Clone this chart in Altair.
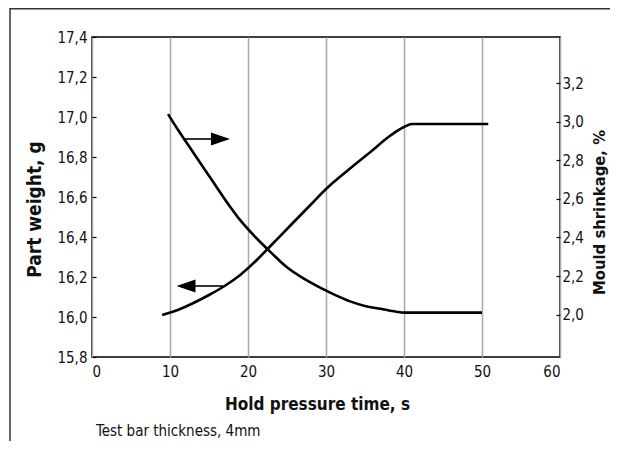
import altair as alt
import pandas as pd

# ---- data ----
time_pw = [9, 11, 13, 15, 17, 19, 21, 23, 25, 28, 30, 33, 36, 38, 40, 41, 45, 50.8]
part_weight = [16.01, 16.035, 16.07, 16.11, 16.155, 16.21, 16.28, 16.36, 16.44, 16.56, 16.64,
               16.74, 16.835, 16.90, 16.95, 16.965, 16.965, 16.965]

time_sh = [9.75, 11, 13, 15, 17, 19, 21, 23, 25, 27, 29, 31, 33, 35, 37, 39, 40, 45, 50]
shrinkage = [3.04, 2.96, 2.84, 2.72, 2.60, 2.49, 2.40, 2.32, 2.245, 2.19, 2.145, 2.105, 2.07,
             2.045, 2.03, 2.015, 2.01, 2.01, 2.01]

arrow_dir = ["right", "left"]
arrow_y = [16.89, 16.155]
arrow_shaft_from = [11.8, 16.8]
arrow_shaft_to = [15.3, 13.2]
arrow_head_x = [16.47, 12.05]

x_ticks = [0, 10, 20, 30, 40, 50, 60]
left_ticks = [15.8, 16.0, 16.2, 16.4, 16.6, 16.8, 17.0, 17.2, 17.4]
right_ticks = [2.0, 2.2, 2.4, 2.6, 2.8, 3.0, 3.2]

FONT = "DejaVu Sans Condensed, Liberation Sans Narrow, Arial Narrow, sans-serif"
COMMA = "replace(format(datum.value, '.1f'), '.', ',')"

pw_df = pd.DataFrame({"t": time_pw, "w": part_weight})
sh_df = pd.DataFrame({"t": time_sh, "s": shrinkage})
ar_df = pd.DataFrame({"dir": arrow_dir, "ay": arrow_y, "x1": arrow_shaft_from,
                      "x2": arrow_shaft_to, "hx": arrow_head_x})
one = pd.DataFrame({"k": [0]})

x_scale = alt.Scale(domain=[0, 60], nice=False, zero=False)
x_axis = alt.Axis(values=x_ticks, grid=True, gridColor="#a8a8a8", gridWidth=1.5,
                  domain=False, ticks=False, labelPadding=7, labelFontSize=15,
                  labelFont=FONT, labelColor="#111", format="d",
                  title="Hold pressure time, s", titleFont=FONT, titleFontSize=17,
                  titleFontWeight="bold", titleColor="#111", titleX=225, titleY=52,
                  titleBaseline="alphabetic")

y_left_scale = alt.Scale(domain=[15.8, 17.4], nice=False, zero=False)
y_left_axis = alt.Axis(orient="left", values=left_ticks, labelExpr=COMMA, offset=-4,
                       tickSize=4, tickColor="black", tickWidth=1.2, domain=False,
                       grid=False, labelPadding=5, labelFontSize=15, labelFont=FONT,
                       labelColor="#111", labelOverlap=False, labelFlush=False,
                       title="Part weight, g", titleFont=FONT,
                       titleFontSize=19, titleFontWeight="bold", titleColor="#111",
                       titlePadding=12, titleY=172)

X = lambda f: alt.X(f, scale=x_scale, axis=x_axis)
YL = lambda f: alt.Y(f, scale=y_left_scale, axis=y_left_axis)

pw_line = alt.Chart(pw_df).mark_line(color="black", strokeWidth=2.6, interpolate="monotone").encode(
    x=X("t:Q"), y=YL("w:Q"),
)

shafts = alt.Chart(ar_df).mark_rule(color="black", strokeWidth=1.6).encode(
    x=X("x1:Q"), x2="x2:Q", y=YL("ay:Q")
)

heads = alt.Chart(ar_df).mark_point(filled=True, color="black", opacity=1, size=361,
                                    strokeWidth=0).encode(
    x=X("hx:Q"), y=YL("ay:Q"),
    shape=alt.Shape("dir:N", legend=None,
                    scale=alt.Scale(domain=["right", "left"],
                                    range=["M1,0L-1,-0.68L-1,0.68Z", "M-1,0L1,-0.68L1,0.68Z"])),
)

note = alt.Chart(one).mark_text(text="Test bar thickness, 4mm", font=FONT, fontSize=15,
                                color="#111", align="left", baseline="alphabetic").encode(
    x=alt.value(4), y=alt.value(399)
)

frame_left = alt.Chart(one).mark_rule(color="#333", strokeWidth=1.5).encode(
    x=alt.value(-82), y=alt.value(-29), y2=alt.value(410)
)
frame_top = alt.Chart(one).mark_rule(color="#333", strokeWidth=1.5).encode(
    y=alt.value(-28.2), x=alt.value(-82), x2=alt.value(526)
)

left = alt.layer(pw_line, shafts, heads, note, frame_left, frame_top)

y_right_scale = alt.Scale(domain=[1.78, 3.44], nice=False, zero=False)
y_right_axis = alt.Axis(orient="right", values=right_ticks, labelExpr=COMMA, offset=-4,
                        tickSize=4, tickColor="black", tickWidth=1.2, domain=False,
                        grid=False, labelPadding=2, labelFontSize=15, labelFont=FONT,
                        labelColor="#111", labelOverlap=False, labelFlush=False,
                        title="Mould shrinkage, %", titleFont=FONT,
                        titleFontSize=16.5, titleFontWeight="bold", titleColor="#111",
                        titleAngle=270, titleBaseline="top", titlePadding=8, titleY=175)

sh_line = alt.Chart(sh_df).mark_line(color="black", strokeWidth=2.6, interpolate="monotone").encode(
    x=X("t:Q"),
    y=alt.Y("s:Q", scale=y_right_scale, axis=y_right_axis),
)

chart = alt.layer(left, sh_line).resolve_scale(y="independent").properties(
    width=468, height=320,
    autosize=alt.AutoSizeParams(type="none"),
    padding={"left": 84, "top": 29, "right": 50, "bottom": 84},
    background="white",
).configure_view(stroke="black", strokeWidth=1.5)

chart.save("out.html", embed_options={"renderer": "svg", "actions": False})
